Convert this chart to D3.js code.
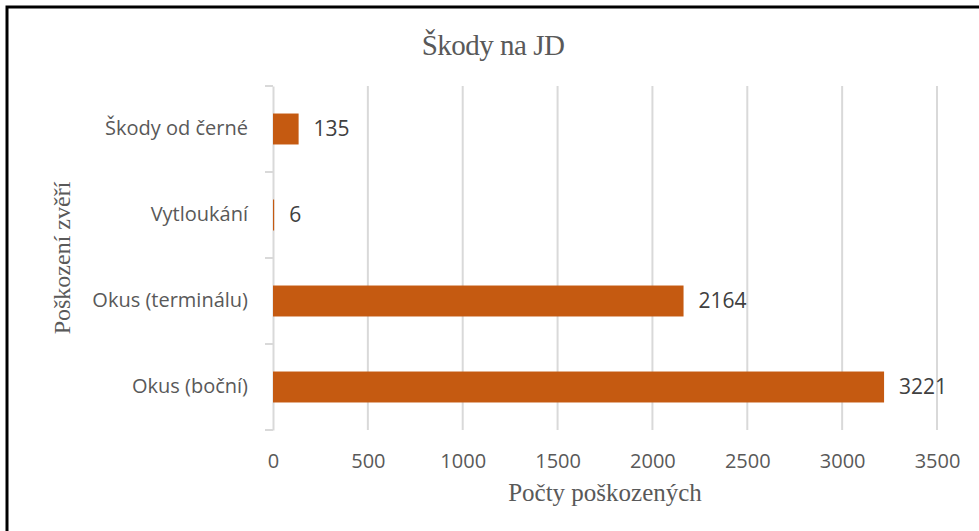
<!DOCTYPE html>
<html>
<head>
<meta charset="utf-8">
<script src="https://cdn.jsdelivr.net/npm/d3@7"></script>
<style>
	body { margin: 0; background: #fff; }
	svg { display: block; }
	.serif { font-family: "Liberation Serif", "DejaVu Serif", serif; fill: #595959; }
	.sans { font-family: "Open Sans", "Noto Sans", sans-serif; fill: #595959; }
</style>
</head>
<body>
<svg id="chart" width="979" height="531"></svg>
<script>
const categories = ['Škody od černé', 'Vytloukání', 'Okus (terminálu)', 'Okus (boční)'];
const values = [135, 6, 2164, 3221];
const xTicks = [0, 500, 1000, 1500, 2000, 2500, 3000, 3500];
const title = 'Škody na JD';
const xTitle = 'Počty poškozených';
const yTitle = 'Poškození zvěří';

const w = 979;
const h = 531;
const svg = d3.select('#chart');

// outer frame (only top/left visible in the original)
svg.append('rect')
	.attr('x', 7)
	.attr('y', 7)
	.attr('width', w + 20)
	.attr('height', h + 20)
	.attr('fill', '#fff')
	.attr('stroke', '#000')
	.attr('stroke-width', 3);

const xScale = d3.scaleLinear()
	.domain([0, 3500])
	.range([273, 937]);

const yScale = d3.scaleBand()
	.domain(categories)
	.range([86, 430])
	.paddingInner(0.64)
	.paddingOuter(0.32);

// gridlines
svg.append('g')
	.selectAll('line')
	.data(xTicks.slice(1))
	.enter()
	.append('line')
	.attr('x1', d => xScale(d))
	.attr('x2', d => xScale(d))
	.attr('y1', 86)
	.attr('y2', 430)
	.attr('stroke', '#d9d9d9')
	.attr('stroke-width', 2);

// category axis
const yAxis = d3.axisLeft(yScale).tickSize(0).tickPadding(25).tickFormat(d => d);
const gy = svg.append('g')
	.attr('transform', `translate(${xScale(0)}, 0)`)
	.call(yAxis);
gy.select('.domain').attr('stroke', '#d9d9d9').attr('stroke-width', 2);
gy.selectAll('text')
	.attr('class', 'sans')
	.style('font-size', '20px')
	.attr('fill', null);

// boundary ticks between categories
const edges = d3.range(categories.length + 1).map(i => 86 + i * (430 - 86) / categories.length);
svg.append('g')
	.selectAll('line')
	.data(edges)
	.enter()
	.append('line')
	.attr('x1', xScale(0) - 8)
	.attr('x2', xScale(0))
	.attr('y1', d => d)
	.attr('y2', d => d)
	.attr('stroke', '#d9d9d9')
	.attr('stroke-width', 2);

// x tick labels (no axis line)
const xAxis = d3.axisBottom(xScale).tickValues(xTicks).tickSize(0).tickPadding(17).tickFormat(d3.format('d'));
const gx = svg.append('g')
	.attr('transform', 'translate(0, 437)')
	.call(xAxis);
gx.select('.domain').remove();
gx.selectAll('text')
	.attr('class', 'sans')
	.style('font-size', '20px')
	.attr('fill', null);

// bars
svg.append('g')
	.selectAll('rect')
	.data(values)
	.enter()
	.append('rect')
	.attr('x', xScale(0))
	.attr('y', (d, i) => yScale(categories[i]))
	.attr('width', d => xScale(d) - xScale(0))
	.attr('height', yScale.bandwidth())
	.attr('fill', '#c55a11');

// data labels
svg.append('g')
	.selectAll('text')
	.data(values)
	.enter()
	.append('text')
	.attr('class', 'sans')
	.attr('x', d => xScale(d) + 15)
	.attr('y', (d, i) => yScale(categories[i]) + yScale.bandwidth() / 2)
	.attr('dy', '0.35em')
	.style('font-size', '21px')
	.style('fill', '#404040')
	.text(d => d);

// titles
svg.append('text')
	.attr('class', 'serif')
	.attr('x', 493)
	.attr('y', 55)
	.attr('text-anchor', 'middle')
	.style('font-size', '29px')
	.style('letter-spacing', '-0.5px')
	.text(title);

svg.append('text')
	.attr('class', 'serif')
	.attr('x', 605)
	.attr('y', 501)
	.attr('text-anchor', 'middle')
	.style('font-size', '25px')
	.text(xTitle);

svg.append('text')
	.attr('class', 'serif')
	.attr('transform', 'translate(70, 258) rotate(-90)')
	.attr('text-anchor', 'middle')
	.style('font-size', '24px')
	.text(yTitle);
</script>
</body>
</html>
